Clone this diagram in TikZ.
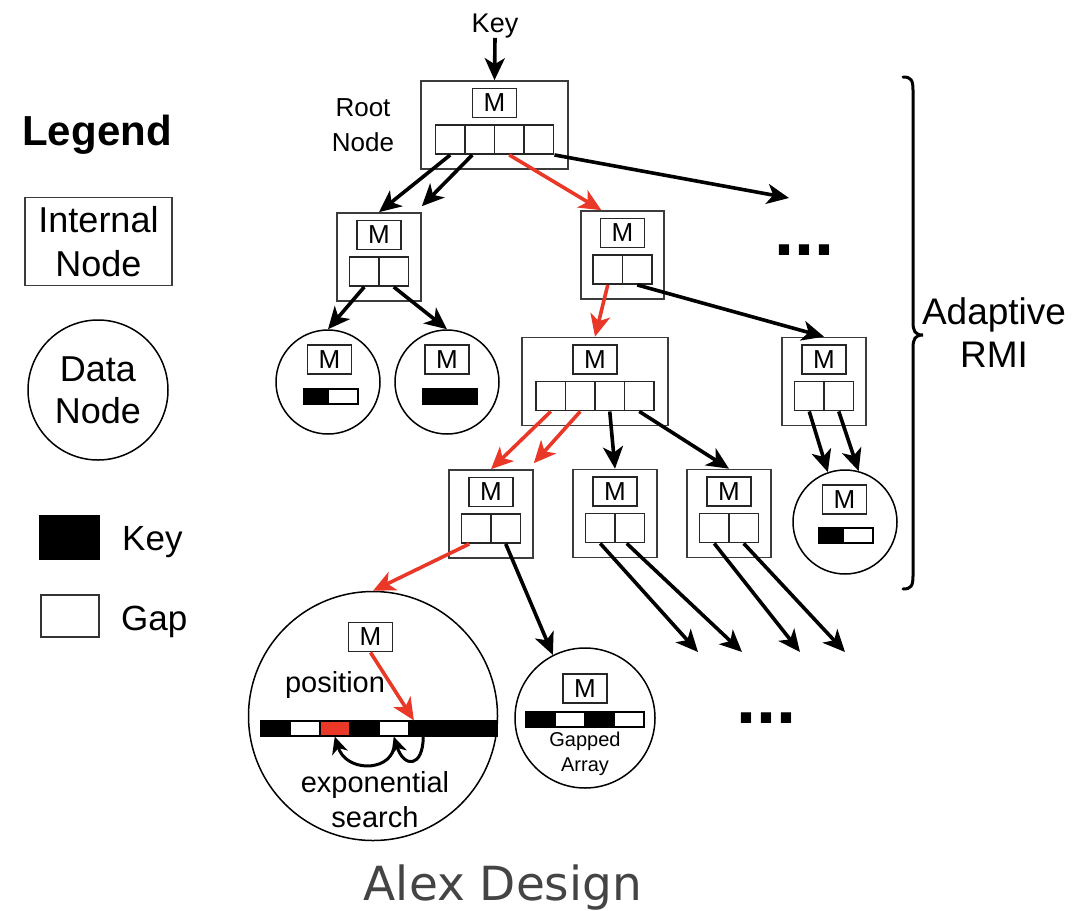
\documentclass[tikz,border=0pt]{standalone}
\usepackage{fontspec}
\setmainfont{Liberation Sans}
\newfontfamily\captionfont{DejaVu Sans}
\usetikzlibrary{arrows.meta,calc}
\definecolor{alexred}{RGB}{234,56,40}
\definecolor{boxgray}{RGB}{60,60,60}
\definecolor{captiongray}{RGB}{68,68,68}

\newcommand\fs[2]{\fontsize{#1}{#2}\selectfont}

% internal node: name, centre x, centre y, width, number of slots
\newcommand\inode[5]{%
  \node[inbox, minimum width=#4pt] (#1) at (#2,#3) {};
  \node[mbox] (#1-m) at (#2,#3-22) {M};
  \foreach \i in {1,...,#5}{
    \node[cell] (#1-\i) at ({#2+(\i-(#5+1)/2)*29.5},#3+14.5) {};
  }%
}

\begin{document}
\begin{tikzpicture}[x=1pt,y=-1pt,
  inbox/.style={draw=boxgray, line width=1.6pt, minimum height=88pt, inner sep=0pt},
  mbox/.style={draw=black!85, line width=1.9pt, minimum width=44pt, minimum height=29pt, inner sep=0pt, font=\fs{26}{26}},
  cell/.style={draw=black!85, line width=1.9pt, minimum width=29.5pt, minimum height=29pt, inner sep=0pt},
  dnode/.style={draw, circle, line width=1.5pt, inner sep=0pt},
  keycell/.style={draw=black, fill=black, line width=1.2pt, minimum height=15pt, inner sep=0pt},
  gapcell/.style={draw=black, fill=white, line width=1.2pt, minimum height=15pt, inner sep=0pt},
  hitcell/.style={draw=black, fill=alexred, line width=1.2pt, minimum height=15pt, inner sep=0pt},
  arr/.style={line width=3.6pt, -{Stealth[length=22pt,width=20pt,inset=6pt]}},
  smallarr/.style={line width=3pt, -{Stealth[length=17pt,width=16pt,inset=5pt]}},
  redarr/.style={arr, draw=alexred, color=alexred},
  lbl/.style={inner sep=0pt}
]
\useasboundingbox (0,0) rectangle (1086,910);

% ---------- legend ----------
\node[lbl, font=\bfseries\fs{42}{42}, anchor=base] (legend) at (97,145) {Legend};
\node[draw=boxgray, line width=1.6pt, minimum width=147pt, minimum height=88pt, inner sep=0pt,
      align=center, font=\fs{36}{44}] (lint) at (98.5,241.5) {Internal\\Node};
\node[dnode, minimum size=140pt, align=center, font=\fs{36}{42}] (ldata) at (98,390) {Data\\Node};
\node[fill=black, draw=black, minimum width=60pt, minimum height=44pt, inner sep=0pt] (lkey) at (69,537) {};
\node[lbl, font=\fs{35}{35}, anchor=base west] (lkeytxt) at (122,550) {Key};
\node[draw=black!80, line width=1.6pt, minimum width=58pt, minimum height=42pt, inner sep=0pt] (lgap) at (70,616) {};
\node[lbl, font=\fs{35}{35}, anchor=base west] (lgaptxt) at (121,630) {Gap};

% ---------- internal nodes ----------
\node[lbl, font=\fs{27}{27}, anchor=base] (key) at (495,32) {Key};
\node[font=\fs{26}{35}, align=center] (rootlabel) at (363,125) {Root\\Node};
\inode{root}{494.5}{125}{147}{4}
\inode{l2a}{379}{257}{84}{2}
\inode{l2b}{622.5}{255}{83}{2}
\inode{l3a}{595}{381.5}{146}{4}
\inode{l3b}{824}{381.5}{84}{2}
\inode{l4a}{491}{514}{84}{2}
\inode{l4b}{615}{513.5}{84}{2}
\inode{l4c}{729}{513.5}{84}{2}

% ---------- small data nodes ----------
\node[dnode, minimum size=104pt] (d1) at (328,382) {};
\node[mbox] (d1-m) at (329.5,359.5) {M};
\node[keycell, minimum width=24pt] (d1-k) at (316,396.5) {};
\node[gapcell, minimum width=30pt] (d1-g) at (343,396.5) {};

\node[dnode, minimum size=104pt] (d2) at (447,382) {};
\node[mbox] (d2-m) at (447,359.5) {M};
\node[keycell, minimum width=27pt] (d2-k1) at (436.5,396.5) {};
\node[keycell, minimum width=27pt] (d2-k2) at (463.5,396.5) {};

\node[dnode, minimum size=104pt] (d3) at (845,522) {};
\node[mbox] (d3-m) at (844.5,499.5) {M};
\node[keycell, minimum width=24pt] (d3-k) at (831,535.5) {};
\node[gapcell, minimum width=30pt] (d3-g) at (858,535.5) {};

% ---------- data node with exponential search ----------
\node[dnode, minimum size=249pt] (big) at (373,716) {};
\node[mbox] (bm) at (370.5,637) {M};
\node[lbl, font=\fs{29}{29}] (pos) at (335,685) {position};
\foreach \i/\s in {1/keycell,2/gapcell,3/hitcell,4/keycell,5/gapcell,6/keycell,7/keycell,8/keycell}{
  \node[\s, minimum width=29.5pt] (b\i) at ({275.75+(\i-1)*29.5},728.5) {};
}
\node[font=\fs{29}{35}, align=center] (search) at (375,800) {exponential\\search};

% ---------- gapped array data node ----------
\node[dnode, minimum size=140pt] (gap) at (585,718) {};
\node[mbox] (gm) at (585,688.5) {M};
\foreach \i/\s in {1/keycell,2/gapcell,3/keycell,4/gapcell}{
  \node[\s, minimum width=29.5pt] (g\i) at ({540.75+(\i-1)*29.5},719.5) {};
}
\node[font=\fs{20}{25}, align=center] (gaplabel) at (585,754) {Gapped\\Array};

% ---------- omitted parts ----------
\node[lbl, font=\bfseries\fs{72}{72}, anchor=base west] (dotsA) at (774,255) {...};
\node[lbl, font=\bfseries\fs{72}{72}, anchor=base west] (dotsB) at (736,723) {...};
\coordinate (more1) at (789,198);
\coordinate (e1) at (698,652);
\coordinate (e2) at (742,652);
\coordinate (e3) at (800,652);
\coordinate (e4) at (845,652);

% ---------- connectors ----------
\draw[arr] (key.south) -- (root.north);
\draw[arr] (root-1.south) -- (l2a.north);
\draw[arr] ([xshift=-7.5pt]root-2.south) -- ([yshift=6pt]l2a.north east);
\draw[redarr] (root-3.south) -- ($(l2b.north west)!0.5!(l2b.north)$);
\draw[arr] (root-4.south east) -- (more1);
\draw[arr] (l2a-1.south) -- (d1.north);
\draw[arr] (l2a-2.south) -- (d2.north);
\draw[redarr] (l2b-1.south) -- (l3a.north);
\draw[arr] (l2b-2.south) -- (l3b.north);
\draw[redarr] (l3a-1.south) -- (l4a.north);
\draw[redarr] (l3a-2.south) -- ([yshift=6pt]l4a.north east);
\draw[arr] (l3a-3.south) -- (l4b.north);
\draw[arr] (l3a-4.south) -- (l4c.north);
\draw[arr] (l3b-1.south) -- (d3.109);
\draw[arr] (l3b-2.south) -- (d3.75);
\draw[redarr] ([xshift=-7pt]l4a-1.south) -- (big.north);
\draw[arr] (l4a-2.south) -- (gap.117);
\draw[arr] (l4b-1.south) -- (e1);
\draw[arr] ([xshift=-3pt]l4b-2.south) -- (e2);
\draw[arr] (l4c-1.south) -- (e3);
\draw[arr] (l4c-2.south) -- (e4);

% model prediction and exponential search steps
\draw[redarr] (bm.south) -- ([xshift=6pt]b6.north west);
\draw[smallarr] (b6.south) .. controls (423,768) and (404,768) .. (b5.south);
\draw[smallarr] ([yshift=-12pt]b5.south) .. controls (388,772) and (346,772) .. (b3.south);

% ---------- brace around the adaptive RMI ----------
\draw[line width=3pt, line cap=round] (903,77) .. controls (911,77) and (913,80) .. (913,90)
  -- (913,322) .. controls (913,331) and (915,335) .. (923,335)
  .. controls (915,335) and (913,339) .. (913,348)
  -- (913,576) .. controls (913,586) and (911,589) .. (903,589);
\node[font=\fs{37}{43}, align=center] (rmi) at (994,333) {Adaptive\\RMI};

% ---------- caption ----------
\node[lbl, font=\captionfont\fs{47}{47}, text=captiongray, anchor=base] (title) at (503,900) {Alex Design};
\end{tikzpicture}
\end{document}
